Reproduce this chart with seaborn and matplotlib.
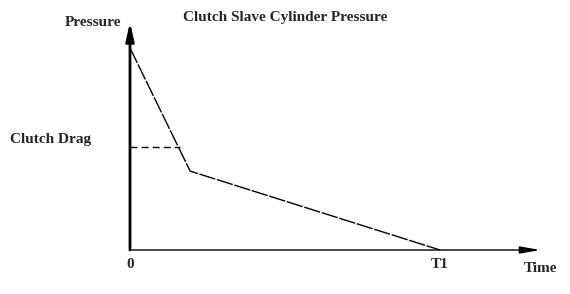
import matplotlib
matplotlib.use("Agg")
import matplotlib.pyplot as plt
import seaborn as sns
import pandas as pd

# Data (time in units of T1, pressure normalized to axis height)
time_pts = [0.0, 0.194, 1.0]
pressure_pts = [0.886, 0.346, 0.0]
drag_time = [0.0, 0.161]
drag_pressure = [0.452, 0.452]
x_ticks = [0.0, 1.0]
x_tick_labels = ["0", "T1"]

sns.set_theme(style="white")
plt.rcParams['font.family'] = ['Liberation Serif', 'DejaVu Serif']

W, H = 570, 294
fig = plt.figure(figsize=(W / 100, H / 100), dpi=100)
fig.patch.set_facecolor("white")
ax = fig.add_axes([130 / W, 44 / H, 410 / W, 228 / H])
ax.set_facecolor("white")
ax.set_xlim(0, 410 / 310)
ax.set_ylim(0, 1)

df = pd.DataFrame({"t": time_pts, "p": pressure_pts})
sns.lineplot(data=df, x="t", y="p", ax=ax, color="black", linewidth=1,
             linestyle=(0, (12, 1.2)), sort=False, clip_on=False)
df2 = pd.DataFrame({"t": drag_time, "p": drag_pressure})
sns.lineplot(data=df2, x="t", y="p", ax=ax, color="black", linewidth=1,
             linestyle=(0, (5, 3)), sort=False, clip_on=False)

for s in ax.spines.values():
    s.set_visible(False)
ax.set_xticks([])
ax.set_yticks([])
ax.set_xlabel("")
ax.set_ylabel("")

# axis arrows
ax.annotate("", xy=(0, 1.0), xytext=(0, 0), xycoords="axes fraction",
            arrowprops=dict(arrowstyle="-|>,head_length=0.9,head_width=0.2",
                            color="black", lw=2.0, shrinkA=0, shrinkB=0))
ax.annotate("", xy=(1.0, 0), xytext=(0, 0), xycoords="axes fraction",
            arrowprops=dict(arrowstyle="-|>,head_length=1.0,head_width=0.18",
                            color="black", lw=1.0, shrinkA=0, shrinkB=0))

fs = 11
for xt, lab in zip(x_ticks, x_tick_labels):
    ax.text(xt, -0.035, lab, ha="center", va="top", fontsize=fs,
            fontweight="bold", transform=ax.get_xaxis_transform())

fig.text(121 / W, 1 - 22 / H, "Pressure", ha="right", va="center",
         fontsize=fs, fontweight="bold")
fig.text(285 / W, 1 - 18 / H, "Clutch Slave Cylinder Pressure", ha="center",
         va="center", fontsize=fs, fontweight="bold")
fig.text(10 / W, 1 - 139 / H, "Clutch Drag", ha="left", va="center",
         fontsize=fs, fontweight="bold")
fig.text(540 / W, 1 - 269 / H, "Time", ha="center", va="center",
         fontsize=fs, fontweight="bold")

fig.savefig("out.png", dpi=100, facecolor="white")
